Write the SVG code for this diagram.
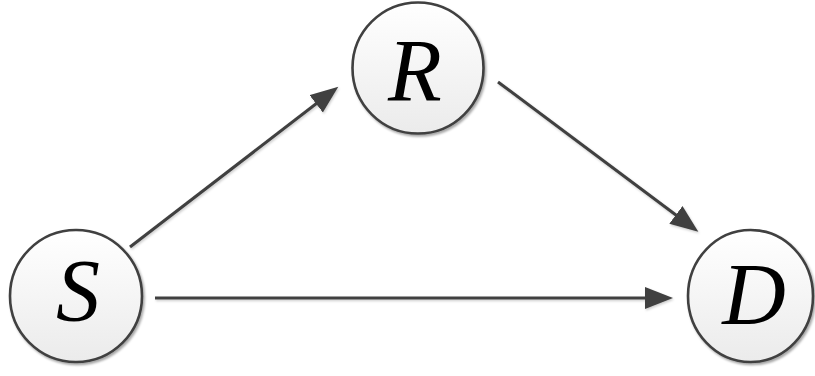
<svg xmlns="http://www.w3.org/2000/svg" width="815" height="376" viewBox="0 0 815 376">
  <style>
    .node { fill: url(#g); stroke: #404040; stroke-width: 2.6; filter: url(#sh); }
    .lbl { font-family: "Liberation Serif", serif; font-style: italic; font-size: 88px; fill: #000; text-anchor: middle; }
    .edge { stroke: #404040; stroke-width: 3; fill: none; marker-end: url(#ah); filter: url(#sh2); }
  </style>
  <defs>
    <linearGradient id="g" x1="0" y1="0" x2="0" y2="1">
      <stop offset="0" stop-color="#ffffff"/>
      <stop offset="1" stop-color="#ebebeb"/>
    </linearGradient>
    <filter id="sh" x="-20%" y="-20%" width="140%" height="140%">
      <feDropShadow dx="1.5" dy="2" stdDeviation="1.2" flood-color="#000" flood-opacity="0.35"/>
    </filter>
    <filter id="sh2" filterUnits="userSpaceOnUse" x="0" y="0" width="815" height="376">
      <feDropShadow dx="1" dy="1.5" stdDeviation="1" flood-color="#000" flood-opacity="0.2"/>
    </filter>
    <marker id="ah" markerUnits="userSpaceOnUse" markerWidth="30" markerHeight="24" refX="18" refY="11" orient="auto">
      <path d="M0,0 L28,11 L0,22 Z" fill="#404040"/>
    </marker>
  </defs>
  <g id="connectors">
    <line class="edge" x1="130" y1="247" x2="330.4" y2="92.8"/>
    <line class="edge" x1="498" y1="82" x2="690.3" y2="225.7"/>
    <line class="edge" x1="155" y1="298" x2="663" y2="298"/>
  </g>
  <g id="node-S">
    <circle class="node" cx="76" cy="296" r="66"/>
    <text class="lbl" x="78" y="320">S</text>
  </g>
  <g id="node-R">
    <circle class="node" cx="418" cy="68" r="65.5"/>
    <text class="lbl" x="415" y="100">R</text>
  </g>
  <g id="node-D">
    <ellipse class="node" cx="750.5" cy="296" rx="62.5" ry="66"/>
    <text class="lbl" x="754" y="324">D</text>
  </g>
</svg>
